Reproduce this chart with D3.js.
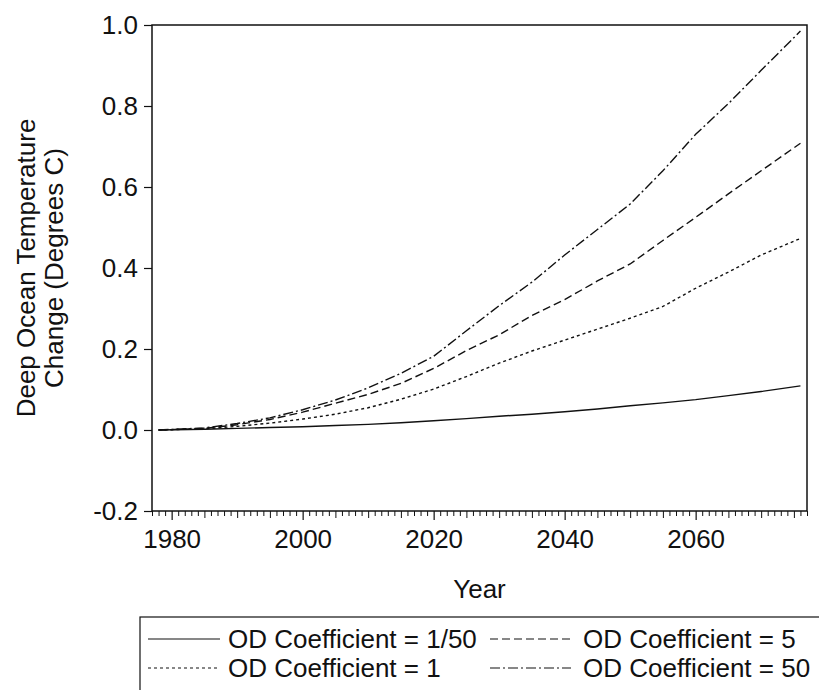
<!DOCTYPE html>
<html>
<head>
<meta charset="utf-8">
<script src="https://cdn.jsdelivr.net/npm/d3@7/dist/d3.min.js"></script>
<style>
  html, body { margin: 0; padding: 0; background: #fff; }
  svg { display: block; }
  text { font-family: "Liberation Sans", Arial, Helvetica, sans-serif; fill: #111; }
</style>
</head>
<body>
<svg id="chart" width="819" height="690"></svg>
<script>
// Simulated deep ocean temperature change for four OD coefficients
const years = [1978, 1985, 1990, 1995, 2000, 2005, 2010, 2015, 2020, 2025,
               2030, 2035, 2040, 2045, 2050, 2055, 2060, 2065, 2070, 2076];
const odFiftieth = [0, 0.002, 0.004, 0.006, 0.008, 0.011, 0.014, 0.018, 0.023, 0.028,
                    0.034, 0.039, 0.045, 0.052, 0.060, 0.067, 0.075, 0.085, 0.095, 0.109];
const odOne = [0, 0.003, 0.009, 0.017, 0.027, 0.039, 0.055, 0.076, 0.101, 0.132,
               0.165, 0.195, 0.222, 0.249, 0.276, 0.305, 0.350, 0.390, 0.432, 0.473];
const odFive = [0, 0.004, 0.013, 0.026, 0.044, 0.066, 0.088, 0.115, 0.152, 0.196,
                0.235, 0.283, 0.322, 0.368, 0.410, 0.468, 0.525, 0.583, 0.640, 0.708];
const odFifty = [0, 0.005, 0.016, 0.030, 0.050, 0.074, 0.104, 0.140, 0.182, 0.245,
                 0.307, 0.365, 0.432, 0.495, 0.558, 0.640, 0.730, 0.806, 0.888, 0.985];

const seriesNames = ["OD Coefficient = 1/50", "OD Coefficient = 5",
                     "OD Coefficient = 1", "OD Coefficient = 50"];
const yTickValues = [-0.2, 0.0, 0.2, 0.4, 0.6, 0.8, 1.0];
const xTickLabels = [1980, 2000, 2020, 2040, 2060];
const xTitle = "Year";
const yTitleLines = ["Deep Ocean Temperature", "Change (Degrees C)"];

const svg = d3.select("#chart");
const plot = { left: 152, right: 807, top: 25, bottom: 511 };
const fontSize = 26;

const x = d3.scaleLinear().domain([1977, 2077]).range([plot.left, plot.right]);
const y = d3.scaleLinear().domain([-0.2, 1.0]).range([plot.bottom, plot.top]);

// line styles per series (solid, dashed, short-dashed, dash-dot)
const styles = {
  "OD Coefficient = 1/50": null,
  "OD Coefficient = 5": "8,4",
  "OD Coefficient = 1": "3,3",
  "OD Coefficient = 50": "10,3,2,3"
};
const seriesValues = {
  "OD Coefficient = 1/50": odFiftieth,
  "OD Coefficient = 5": odFive,
  "OD Coefficient = 1": odOne,
  "OD Coefficient = 50": odFifty
};

// frame
svg.append("rect")
  .attr("x", plot.left).attr("y", plot.top)
  .attr("width", plot.right - plot.left).attr("height", plot.bottom - plot.top)
  .attr("fill", "none").attr("stroke", "#111").attr("stroke-width", 1.5);

// y axis (plain hyphen for negatives)
const fmt1 = d3.format(".1f");
const yAxis = d3.axisLeft(y).tickValues(yTickValues).tickSize(8).tickPadding(6)
  .tickFormat(d => fmt1(d).replace("\u2212", "-"));
const gy = svg.append("g").attr("transform", `translate(${plot.left},0)`).call(yAxis);
gy.select(".domain").remove();
gy.selectAll("line").attr("stroke", "#111").attr("stroke-width", 1.2);
gy.selectAll("text").style("font-size", fontSize + "px").attr("fill", "#111");

// x axis: yearly minor ticks, labelled major ticks
const minorYears = d3.range(1977, 2078);
const gxMinor = svg.append("g").attr("transform", `translate(0,${plot.bottom})`)
  .call(d3.axisBottom(x).tickValues(minorYears.filter(v => v % 20 !== 0))
    .tickSize(5).tickFormat(""));
gxMinor.select(".domain").remove();
gxMinor.selectAll("line")
  .attr("y2", d => (d % 5 === 0 ? 7 : 5))
  .attr("stroke", "#111").attr("stroke-width", 1);

const gx = svg.append("g").attr("transform", `translate(0,${plot.bottom})`)
  .call(d3.axisBottom(x).tickValues(xTickLabels).tickSize(9).tickPadding(10)
    .tickFormat(d3.format("d")));
gx.select(".domain").remove();
gx.selectAll("line").attr("stroke", "#111").attr("stroke-width", 1.2);
gx.selectAll("text").style("font-size", fontSize + "px").attr("fill", "#111");

// axis titles
svg.append("text")
  .attr("x", (plot.left + plot.right) / 2).attr("y", 598)
  .attr("text-anchor", "middle").style("font-size", fontSize + "px")
  .text(xTitle);

const yMid = (plot.top + plot.bottom) / 2;
yTitleLines.forEach((t, i) => {
  svg.append("text")
    .attr("transform", `translate(${35 + i * 28},${yMid}) rotate(-90)`)
    .attr("text-anchor", "middle").style("font-size", fontSize + "px")
    .text(t);
});

// series lines
const line = d3.line().x((d, i) => x(years[i])).y(d => y(d));
seriesNames.forEach(name => {
  svg.append("path")
    .datum(seriesValues[name])
    .attr("d", line)
    .attr("fill", "none")
    .attr("stroke", "#111")
    .attr("stroke-width", 1.4)
    .attr("stroke-dasharray", styles[name]);
});

// legend
const legend = { left: 140, top: 617, right: 832, bottom: 693 };
svg.append("rect")
  .attr("x", legend.left).attr("y", legend.top)
  .attr("width", legend.right - legend.left).attr("height", legend.bottom - legend.top)
  .attr("fill", "none").attr("stroke", "#111").attr("stroke-width", 1.2);

const colSample = [[148, 220], [490, 571]];
const colText = [228, 583];
const rowBase = [648, 677];
seriesNames.forEach((name, i) => {
  const col = i % 2, row = Math.floor(i / 2);
  const cy = rowBase[row] - 9;
  svg.append("line")
    .attr("x1", colSample[col][0]).attr("x2", colSample[col][1])
    .attr("y1", cy).attr("y2", cy)
    .attr("stroke", "#111").attr("stroke-width", 1.2)
    .attr("stroke-dasharray", styles[name]);
  svg.append("text")
    .attr("x", colText[col]).attr("y", rowBase[row])
    .style("font-size", fontSize + "px")
    .text(name);
});
</script>
</body>
</html>
